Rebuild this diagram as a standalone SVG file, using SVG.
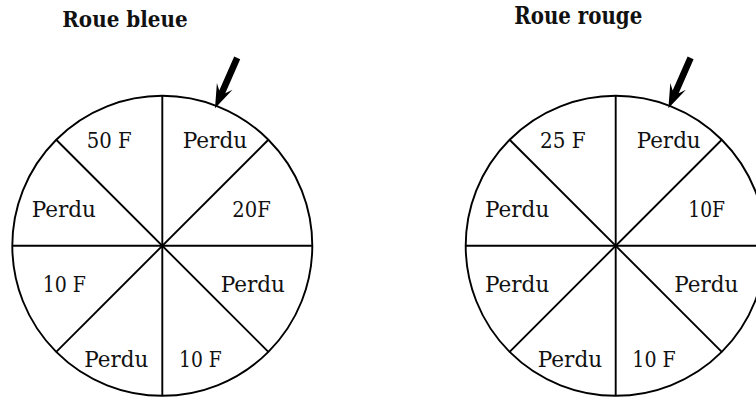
<svg xmlns="http://www.w3.org/2000/svg" xmlns:xlink="http://www.w3.org/1999/xlink" width="756" height="398" viewBox="0 0 756 398">
<style>
.ln{fill:none;stroke:#000;stroke-width:1.9}
.t{font-family:"DejaVu Serif","Liberation Serif",serif;font-size:22.5px;fill:#111}
.h{font-family:"DejaVu Serif","Liberation Serif",serif;font-weight:bold;fill:#111}
</style>
<defs>
<g id="wheel">
<circle class="ln" cx="0" cy="0" r="150"/>
<line class="ln" x1="0" y1="-150" x2="0" y2="150"/>
<line class="ln" x1="-150" y1="0" x2="150" y2="0"/>
<line class="ln" x1="-106.07" y1="-106.07" x2="106.07" y2="106.07"/>
<line class="ln" x1="-106.07" y1="106.07" x2="106.07" y2="-106.07"/>
</g>
<polygon id="arrow" points="215,108.3 232.5,89.8 225.3,93.2 240.2,59.3 234.2,56.6 219.25,90.5 216.9,82.9" fill="#000"/>
</defs>
<rect width="756" height="398" fill="#fff"/>
<g id="roue-bleue">
<use xlink:href="#wheel" transform="translate(162.3,245.8)"/>
<text class="h" x="62.3" y="27.3" font-size="21.5" textLength="125.4" lengthAdjust="spacingAndGlyphs">Roue bleue</text>
<text class="t" x="86.7" y="147.7" textLength="45" lengthAdjust="spacingAndGlyphs">50 F</text>
<text class="t" x="182.7" y="147.7" textLength="64.6" lengthAdjust="spacingAndGlyphs">Perdu</text>
<text class="t" x="31.7" y="216.7" textLength="64.3" lengthAdjust="spacingAndGlyphs">Perdu</text>
<text class="t" x="232.3" y="216.7" textLength="38.4" lengthAdjust="spacingAndGlyphs">20F</text>
<text class="t" x="42.7" y="291.7" textLength="43.3" lengthAdjust="spacingAndGlyphs">10 F</text>
<text class="t" x="220.7" y="291.7" textLength="64.3" lengthAdjust="spacingAndGlyphs">Perdu</text>
<text class="t" x="84.3" y="367.3" textLength="64" lengthAdjust="spacingAndGlyphs">Perdu</text>
<text class="t" x="179" y="367.3" textLength="42.7" lengthAdjust="spacingAndGlyphs">10 F</text>
</g>
<g id="roue-rouge">
<use xlink:href="#wheel" transform="translate(615.7,245.8)"/>
<text class="h" x="514.3" y="24" font-size="23.5" textLength="128" lengthAdjust="spacingAndGlyphs">Roue rouge</text>
<text class="t" x="540" y="147.7" textLength="45.7" lengthAdjust="spacingAndGlyphs">25 F</text>
<text class="t" x="636.7" y="147.7" textLength="64" lengthAdjust="spacingAndGlyphs">Perdu</text>
<text class="t" x="485" y="216.7" textLength="64.3" lengthAdjust="spacingAndGlyphs">Perdu</text>
<text class="t" x="688.3" y="216.7" textLength="36.7" lengthAdjust="spacingAndGlyphs">10F</text>
<text class="t" x="485" y="291.7" textLength="64.3" lengthAdjust="spacingAndGlyphs">Perdu</text>
<text class="t" x="674.3" y="291.7" textLength="64" lengthAdjust="spacingAndGlyphs">Perdu</text>
<text class="t" x="537.7" y="367.3" textLength="64.6" lengthAdjust="spacingAndGlyphs">Perdu</text>
<text class="t" x="632.3" y="367.3" textLength="43.4" lengthAdjust="spacingAndGlyphs">10 F</text>
</g>
<g id="connectors">
<use xlink:href="#arrow"/>
<use xlink:href="#arrow" transform="translate(453.4,0)"/>
</g>
</svg>
